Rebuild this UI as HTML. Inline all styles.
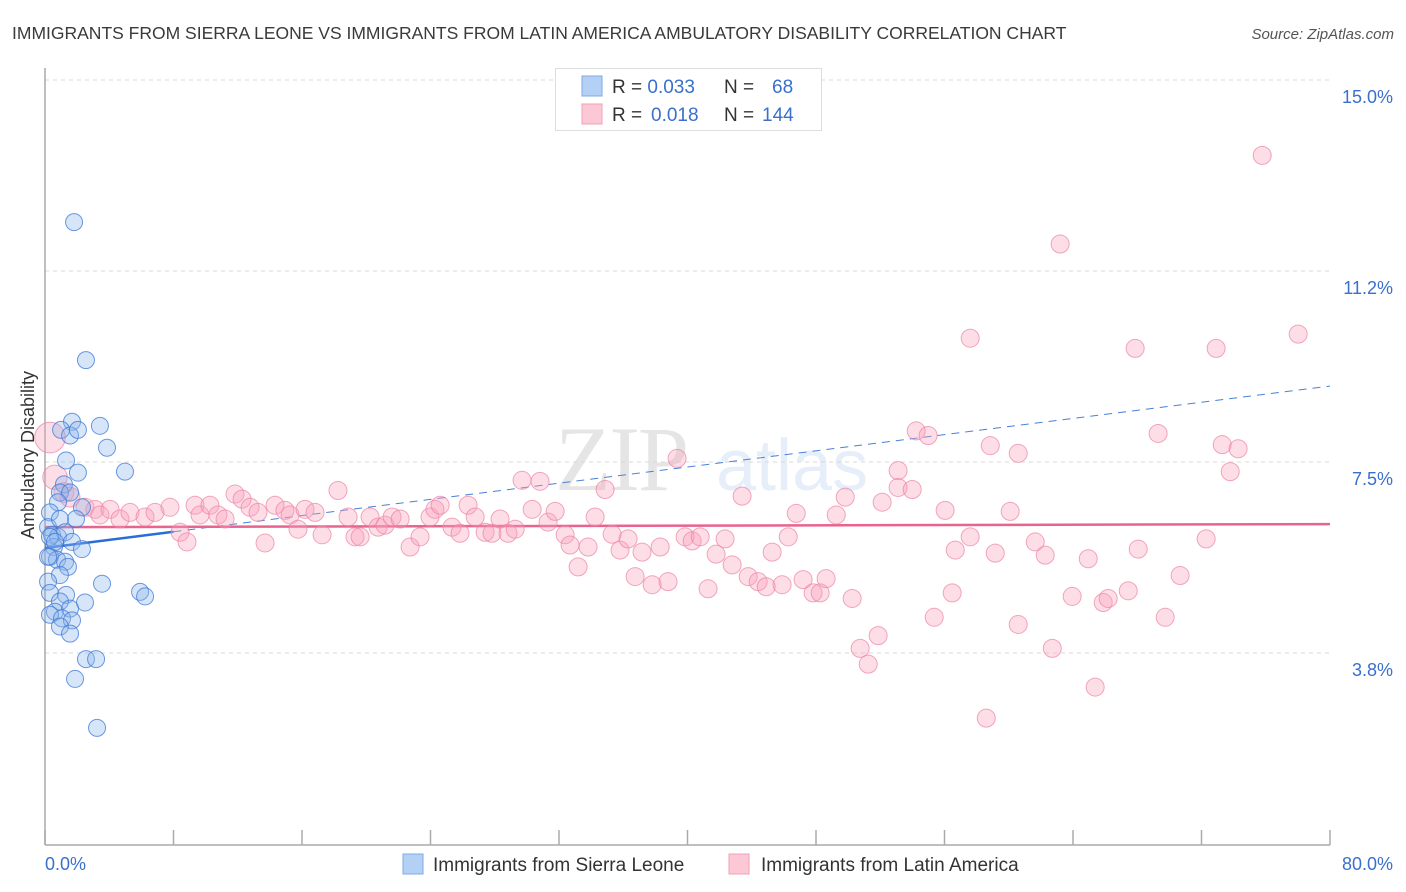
<!DOCTYPE html>
<html><head><meta charset="utf-8"><style>
body{margin:0;background:#fff;font-family:"Liberation Sans",sans-serif;}
svg{display:block}
</style></head><body>
<svg id="chart" width="1406" height="892">
<text x="12" y="39" font-size="17.5" fill="#3a3a3a">IMMIGRANTS FROM SIERRA LEONE VS IMMIGRANTS FROM LATIN AMERICA AMBULATORY DISABILITY CORRELATION CHART</text>
<text x="1394" y="39" font-size="15" fill="#555" font-style="italic" text-anchor="end">Source: ZipAtlas.com</text>
<g opacity="0.12">
<text x="555" y="490" font-size="92" font-family="Liberation Serif,serif" fill="#333" letter-spacing="-2">ZIP</text>
<text x="716" y="490" font-size="72" fill="#3b78d8">atlas</text>
</g>
<g id="grid"></g>
<g id="axes"></g>
<g id="trends"></g>
<g id="pts"></g>
<text transform="translate(34,455) rotate(-90)" font-size="18" fill="#333" text-anchor="middle">Ambulatory Disability</text>
<g>
<rect x="555.5" y="68.5" width="266" height="62" fill="#fff" stroke="#ddd"/>
<rect x="582" y="76" width="20" height="20" fill="#b5d0f5" stroke="#7eaae8"/>
<rect x="582" y="104" width="20" height="20" fill="#fcc8d6" stroke="#f0a0b8"/>
<text x="612" y="93" font-size="19" fill="#333">R = <tspan fill="#3a70cc">0.033</tspan><tspan x="724">N = </tspan><tspan x="772" fill="#3a70cc">68</tspan></text>
<text x="612" y="121" font-size="19" fill="#333">R = <tspan x="651" fill="#3a70cc">0.018</tspan><tspan x="724">N = </tspan><tspan x="762" fill="#3a70cc">144</tspan></text>
</g>
<g>
<rect x="403" y="854" width="20" height="20" fill="#b5d0f5" stroke="#7eaae8"/>
<text x="433" y="871" font-size="19" fill="#333">Immigrants from Sierra Leone</text>
<rect x="729" y="854" width="20" height="20" fill="#fcc8d6" stroke="#f0a0b8"/>
<text x="761" y="871" font-size="19" fill="#333">Immigrants from Latin America</text>
</g>
</svg>
<script>
const yTicks=[15,11.25,7.5,3.75];
const yTickLabels=["15.0%","11.2%","7.5%","3.8%"];
const xTicks=[0,8,16,24,32,40,48,56,64,72,80];
const xEndLabels=["0.0%","80.0%"];
const blueX=[1.81,2.55,1.68,3.42,1.0,1.56,2.05,3.86,1.31,4.98,2.05,1.18,0.93,1.56,0.81,2.3,1.93,0.31,0.19,0.93,0.44,0.81,1.25,1.68,0.56,2.3,0.31,0.75,1.25,1.43,0.93,0.19,3.55,0.31,5.92,6.23,1.31,2.49,0.93,0.62,1.56,0.31,1.06,1.68,0.93,1.56,2.55,3.18,1.87,3.24,0.31,0.62,0.19];
const blueY=[12.21,9.50,8.29,8.21,8.13,8.02,8.13,7.78,7.53,7.31,7.29,7.06,6.90,6.90,6.71,6.61,6.38,6.51,6.22,6.38,6.07,6.03,6.12,5.93,5.83,5.79,5.64,5.58,5.54,5.44,5.28,5.15,5.11,4.93,4.95,4.86,4.89,4.74,4.76,4.56,4.62,4.50,4.43,4.39,4.27,4.13,3.63,3.63,3.24,2.28,6.03,5.93,5.64];
const pinkX=[0.31,0.62,1.18,1.56,2.49,3.11,3.42,4.05,4.67,5.29,6.23,6.85,7.78,8.41,8.84,9.34,9.65,10.27,10.77,11.21,11.83,12.27,12.77,13.26,13.70,14.32,14.94,15.26,15.75,16.19,16.81,17.25,18.24,18.87,19.30,19.62,20.24,20.74,21.17,21.61,22.11,22.73,23.35,23.97,24.28,24.60,25.34,25.84,26.34,26.78,27.40,27.83,28.33,28.83,29.27,29.70,30.33,30.82,31.32,31.76,32.38,32.69,33.19,33.81,34.25,34.87,35.31,35.80,36.30,36.74,37.17,37.80,38.30,38.79,39.35,39.85,40.29,40.79,41.28,41.78,42.34,42.78,43.40,43.78,44.40,44.90,45.27,45.89,46.27,46.77,47.20,47.82,48.26,48.63,49.26,49.82,50.25,50.75,51.25,51.87,52.12,53.11,53.11,53.99,54.24,54.98,55.36,56.04,56.48,56.67,57.60,57.60,58.60,58.85,59.16,60.09,60.59,60.59,61.65,62.27,62.71,63.20,63.95,64.95,65.38,65.88,66.19,67.44,67.87,68.06,69.30,69.74,70.67,72.29,72.91,73.29,73.79,74.28,75.78,78.02];
const pinkY=[7.98,7.20,6.90,6.81,6.61,6.57,6.46,6.57,6.38,6.51,6.42,6.51,6.61,6.12,5.93,6.65,6.46,6.65,6.46,6.38,6.87,6.77,6.61,6.51,5.91,6.65,6.55,6.46,6.18,6.57,6.51,6.07,6.94,6.42,6.03,6.03,6.42,6.22,6.26,6.42,6.38,5.83,6.03,6.42,6.57,6.65,6.22,6.10,6.65,6.42,6.12,6.10,6.38,6.10,6.18,7.14,6.57,7.12,6.32,6.53,6.07,5.87,5.44,5.83,6.42,6.96,6.08,5.77,5.99,5.25,5.73,5.09,5.83,5.15,7.57,6.03,5.95,6.03,5.01,5.69,5.99,5.48,6.83,5.25,5.15,5.05,5.73,5.09,6.03,6.49,5.19,4.93,4.93,5.21,6.46,6.81,4.82,3.84,3.53,4.09,6.71,7.33,7.00,6.96,8.11,8.02,4.45,6.55,4.93,5.77,6.03,9.93,2.47,7.82,5.71,6.53,7.67,4.31,5.93,5.67,3.84,11.78,4.86,5.60,3.08,4.74,4.82,4.97,9.73,5.79,8.06,4.45,5.27,5.99,9.73,7.84,7.31,7.76,13.52,10.01];
const pinkSize=[1.7,1.35,1.1,1.1];
const blueTrendX=[0,8,80];
const blueTrendY=[5.81,6.13,8.99];
const pinkTrendX=[0,80];
const pinkTrendY=[6.22,6.28];

const NS="http://www.w3.org/2000/svg";
const X0=45,X1=1330,Y15=80,PPU=50.93;
function xs(v){return X0+(v/80)*(X1-X0);}
function ys(v){return Y15+(15-v)*PPU;}
function mk(tag,attrs,parent){const e=document.createElementNS(NS,tag);for(const k in attrs)e.setAttribute(k,attrs[k]);parent.appendChild(e);return e;}
const grid=document.getElementById('grid'),axes=document.getElementById('axes'),trends=document.getElementById('trends'),pts=document.getElementById('pts');
yTicks.forEach((t,i)=>{
 const l=mk('line',{x1:X0,x2:X1,y1:ys(t),y2:ys(t),stroke:'#d8d8d8','stroke-dasharray':'4,4'},grid);
 
 
 const tx=mk('text',{x:1393,y:ys(t)+23,'font-size':18,fill:'#3a70cc','text-anchor':'end'},axes);
 tx.textContent=yTickLabels[i];
 
 
});
const ya=mk('line',{x1:X0,x2:X0,y1:68,y2:845,stroke:'#aaa','stroke-width':1.5},axes);


const xa=mk('line',{x1:X0,x2:X1,y1:845,y2:845,stroke:'#aaa','stroke-width':1.5},axes);


xTicks.forEach(t=>{
 const l=mk('line',{x1:xs(t),x2:xs(t),y1:830,y2:845,stroke:'#aaa','stroke-width':1.5},axes);
 
 
});
const xl0=mk('text',{x:45,y:870,'font-size':18,fill:'#3a70cc'},axes);xl0.textContent=xEndLabels[0];


const xl1=mk('text',{x:1393,y:870,'font-size':18,fill:'#3a70cc','text-anchor':'end'},axes);xl1.textContent=xEndLabels[1];



pinkX.forEach((v,i)=>{
 const r=9*(pinkSize[i]||1);
 const c=mk('circle',{cx:xs(v),cy:ys(pinkY[i]),r:r,fill:'rgba(248,160,186,0.35)',stroke:'rgba(236,130,165,0.7)','stroke-width':1},pts);
 
 
});
blueX.forEach((v,i)=>{
 const c=mk('circle',{cx:xs(v),cy:ys(blueY[i]),r:8.5,fill:'rgba(140,180,235,0.35)',stroke:'rgba(60,120,215,0.75)','stroke-width':1},pts);
 
 
});
const bs=mk('line',{x1:xs(blueTrendX[0]),y1:ys(blueTrendY[0]),x2:xs(blueTrendX[1]),y2:ys(blueTrendY[1]),stroke:'#2a6dd6','stroke-width':2.5},trends);


const bd=mk('line',{x1:xs(blueTrendX[1]),y1:ys(blueTrendY[1]),x2:xs(blueTrendX[2]),y2:ys(blueTrendY[2]),stroke:'#4a80d8','stroke-width':1,'stroke-dasharray':'8,6'},trends);


const pt=mk('line',{x1:xs(pinkTrendX[0]),y1:ys(pinkTrendY[0]),x2:xs(pinkTrendX[1]),y2:ys(pinkTrendY[1]),stroke:'#e8638e','stroke-width':2.5},trends);


</script>
</body></html>
